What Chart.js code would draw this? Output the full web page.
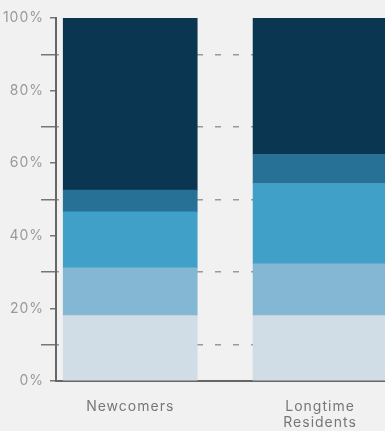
<!DOCTYPE html>
<html>
<head>
<meta charset="utf-8">
<script src="https://cdn.jsdelivr.net/npm/chart.js@4"></script>
<style>
  html,body{margin:0;padding:0;background:#f0f1f0;}
  #wrap{width:385px;height:431px;position:relative;}
</style>
</head>
<body>
<div id="wrap"><canvas id="chart"></canvas></div>
<script>
// categories and stacked shares (percent), bottom segment first
const categories=[['Newcomers'],['Longtime','Residents']];
const band1=[18,18];
const band2=[13.2,14.3];
const band3=[15.4,22.1];
const band4=[6,8];
const band5=[47.4,37.6];
const bandColors=['#d0dde6','#83b7d4','#41a0c7','#277096','#0b3652'];
const yTicks=[0,10,20,30,40,50,60,70,80,90,100];

const series=[band1,band2,band3,band4,band5];
const datasets=series.map((vals,i)=>({
  label:'Band '+(i+1),
  data:vals.map((v,j)=>({x:j,y:v})),
  backgroundColor:bandColors[i],
  borderWidth:0,
  barThickness:134
}));

const isLabeled=v=>v%20===0;

// slightly tracked-out tick labels
const spacing={
  id:'spacing',
  beforeDraw(chart){ chart.ctx.letterSpacing='1px'; }
};

new Chart(document.getElementById('chart'),{
  type:'bar',
  data:{datasets},
  plugins:[spacing],
  options:{
    responsive:true,
    maintainAspectRatio:false,
    animation:false,
    layout:{padding:{top:18,left:0,right:0,bottom:0}},
    plugins:{legend:{display:false},tooltip:{enabled:false}},
    scales:{
      x:{
        type:'linear',
        stacked:true,
        offset:false,
        min:-0.391,
        max:1.342,
        grid:{display:false,offset:false},
        border:{display:true,color:'#666',width:2},
        afterBuildTicks:s=>{ s.ticks=categories.map((c,i)=>({value:i})); },
        afterFit:s=>{ s.height=50; },
        ticks:{
          color:'#777',
          padding:10,
          maxRotation:0,
          autoSkip:false,
          font:{family:'Inter',size:14,lineHeight:1.15},
          callback:v=>categories[v]
        }
      },
      y:{
        stacked:true,
        min:0,
        max:100,
        afterBuildTicks:s=>{ s.ticks=yTicks.map(v=>({value:v})); },
        afterFit:s=>{ s.width=56; },
        grid:{
          color:c=>isLabeled(c.tick.value)?'rgba(0,0,0,0)':'#999',
          lineWidth:1.5,
          tickColor:'#777',
          tickWidth:1.5,
          tickLength:15,
          tickBorderDash:c=>isLabeled(c.tick.value)?[0,9,5,20]:[],
          drawTicks:true
        },
        border:{
          display:true,color:'#666',width:2,
          dash:c=>c.tick?[6,12]:[],
          dashOffset:4
        },
        ticks:{
          color:'#999',
          padding:-3,
          font:{family:'Inter',size:14},
          callback:v=>isLabeled(v)?v+'%':''
        }
      }
    }
  }
});
</script>
</body>
</html>
